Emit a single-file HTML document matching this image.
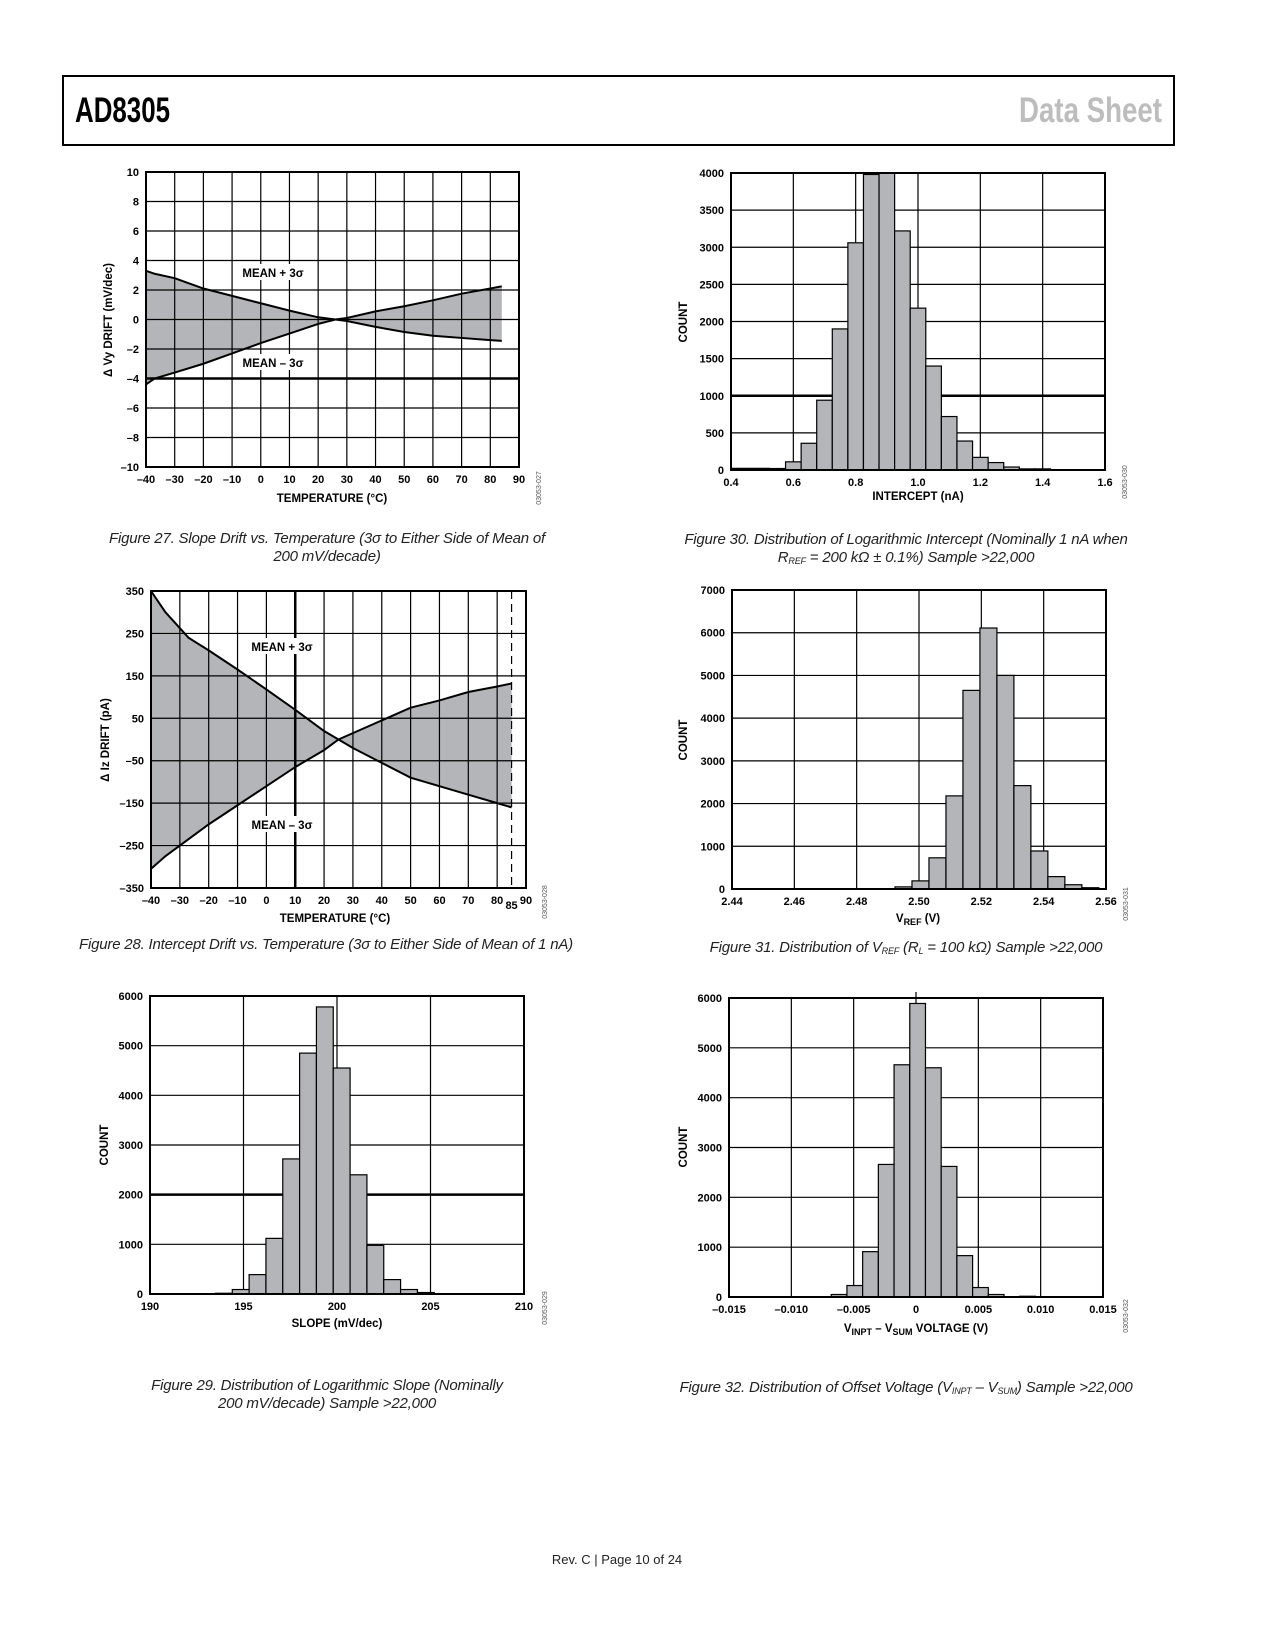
<!DOCTYPE html>
<html>
<head>
<meta charset="utf-8">
<style>
  html,body{margin:0;padding:0;background:#fff;}
  body{width:1275px;height:1650px;overflow:hidden;}
  svg{display:block;font-family:"Liberation Sans",sans-serif;}
  .tick{font-size:11px;font-weight:bold;fill:#000;}
  .atitle{font-size:11.5px;font-weight:bold;fill:#000;}
  .cap{font-size:15px;font-style:italic;fill:#222;letter-spacing:-0.2px;}
  .serial{font-size:7px;fill:#555;}
</style>
</head>
<body>
<svg id="page" width="1275" height="1650" viewBox="0 0 1275 1650">
  <rect x="63" y="76" width="1111" height="69" fill="none" stroke="#000" stroke-width="2"/>
  <text x="75" y="122" font-size="35" font-weight="bold" textLength="95" lengthAdjust="spacingAndGlyphs" fill="#000">AD8305</text>
  <text x="1019" y="122" font-size="35" font-weight="bold" textLength="143" lengthAdjust="spacingAndGlyphs" fill="#bdbdbd">Data Sheet</text>

  <text class="cap" x="327" y="543" text-anchor="middle">Figure 27. Slope Drift vs. Temperature (3σ to Either Side of Mean of</text>
  <text class="cap" x="327" y="561" text-anchor="middle">200 mV/decade)</text>
  <text class="cap" x="326" y="949" text-anchor="middle">Figure 28. Intercept Drift vs. Temperature (3σ to Either Side of Mean of 1 nA)</text>
  <text class="cap" x="327" y="1390" text-anchor="middle">Figure 29. Distribution of Logarithmic Slope (Nominally</text>
  <text class="cap" x="327" y="1408" text-anchor="middle">200 mV/decade) Sample &gt;22,000</text>
  <text class="cap" x="906" y="544" text-anchor="middle">Figure 30. Distribution of Logarithmic Intercept (Nominally 1 nA when</text>
  <text class="cap" x="906" y="562" text-anchor="middle">R<tspan font-size="9" dy="2">REF</tspan><tspan dy="-2"> = 200 kΩ ± 0.1%) Sample &gt;22,000</tspan></text>
  <text class="cap" x="906" y="952" text-anchor="middle">Figure 31. Distribution of V<tspan font-size="9" dy="2">REF</tspan><tspan dy="-2"> (R</tspan><tspan font-size="9" dy="2">L</tspan><tspan dy="-2"> = 100 kΩ) Sample &gt;22,000</tspan></text>
  <text class="cap" x="906" y="1392" text-anchor="middle">Figure 32. Distribution of Offset Voltage (V<tspan font-size="9" dy="2">INPT</tspan><tspan dy="-2"> – V</tspan><tspan font-size="9" dy="2">SUM</tspan><tspan dy="-2">) Sample &gt;22,000</tspan></text>
  <text x="617" y="1564" font-size="13" text-anchor="middle" fill="#222">Rev. C | Page 10 of 24</text>
</svg>
<script>
// ---------- DATA ----------
const fig27Temps = [-40,-37,-30,-20,-10,0,10,20,26,30,40,50,60,70,80,84];
const fig27Upper = [3.3,3.1,2.8,2.1,1.6,1.1,0.6,0.15,0,-0.1,-0.5,-0.85,-1.1,-1.25,-1.4,-1.45];
const fig27Lower = [-4.4,-4.0,-3.6,-3.0,-2.3,-1.6,-0.95,-0.3,0,0.1,0.55,0.9,1.3,1.75,2.1,2.25];
const fig27XTicks = [-40,-30,-20,-10,0,10,20,30,40,50,60,70,80,90];
const fig27YTicks = [-10,-8,-6,-4,-2,0,2,4,6,8,10];

const fig28Temps = [-40,-35,-27,-20,-10,0,10,20,25,30,40,50,60,70,80,85];
const fig28Upper = [350,300,240,210,165,118,70,20,0,-20,-55,-90,-110,-130,-150,-160];
const fig28Lower = [-305,-275,-235,-200,-155,-110,-65,-25,0,15,45,75,92,112,125,132];
const fig28XTicks = [-40,-30,-20,-10,0,10,20,30,40,50,60,70,80,90];
const fig28YTicks = [-350,-250,-150,-50,50,150,250,350];

const fig29Start = 193.5, fig29Width = 0.9;
const fig29Counts = [15,90,390,1120,2720,4850,5780,4550,2400,980,290,90,30];
const fig29XTicks = [190,195,200,205,210];
const fig29YTicks = [0,1000,2000,3000,4000,5000,6000];

const fig30Start = 0.525, fig30Width = 0.05;
const fig30Counts = [20,110,360,940,1900,3060,3980,4000,3220,2180,1400,720,390,170,100,40,15,15];
const fig30XTicks = [0.4,0.6,0.8,1.0,1.2,1.4,1.6];
const fig30XLabels = ['0.4','0.6','0.8','1.0','1.2','1.4','1.6'];
const fig30YTicks = [0,500,1000,1500,2000,2500,3000,3500,4000];

const fig31Start = 2.4923, fig31Width = 0.00545;
const fig31Counts = [50,190,730,2180,4650,6110,5000,2420,890,290,100,30];
const fig31XTicks = [2.44,2.46,2.48,2.50,2.52,2.54,2.56];
const fig31XLabels = ['2.44','2.46','2.48','2.50','2.52','2.54','2.56'];
const fig31YTicks = [0,1000,2000,3000,4000,5000,6000,7000];

const fig32Start = -0.0068, fig32Width = 0.00126;
const fig32Counts = [50,230,910,2660,4660,5890,4600,2620,830,190,50,5,15];
const fig32XTicks = [-0.015,-0.010,-0.005,0,0.005,0.010,0.015];
const fig32XLabels = ['–0.015','–0.010','–0.005','0','0.005','0.010','0.015'];
const fig32YTicks = [0,1000,2000,3000,4000,5000,6000];

// ---------- HELPERS ----------
const NS = 'http://www.w3.org/2000/svg';
const svg = document.getElementById('page');
function mk(tag, attrs, parent){
  const e = document.createElementNS(NS, tag);
  for (const k in attrs) e.setAttribute(k, attrs[k]);
  (parent || svg).appendChild(e);
  return e;
}
function fmt(v){ return v < 0 ? '–' + Math.abs(v) : String(v); }
function scale(d0,d1,r0,r1){ return v => r0 + (v-d0)/(d1-d0)*(r1-r0); }

function frame(g, box){
  const f = mk('rect',{x:box.l,y:box.t,width:box.r-box.l,height:box.b-box.t,fill:'none',stroke:'#000','stroke-width':2},g);
  
  
}
function vgrid(g, box, sx, vals, thick){
  vals.forEach(v=>{
    const x = sx(v);
    const ln = mk('line',{x1:x,x2:x,y1:box.t,y2:box.b,stroke:'#000','stroke-width':thick&&thick.includes(v)?2.5:1.2},g);
    
    
  });
}
function hgrid(g, box, sy, vals, thick){
  vals.forEach(v=>{
    const y = sy(v);
    const ln = mk('line',{x1:box.l,x2:box.r,y1:y,y2:y,stroke:'#000','stroke-width':thick&&thick.includes(v)?2.5:1.2},g);
    
    
  });
}
function xLabels(g, box, sx, vals, labels, skip){
  vals.forEach((v,i)=>{
    if (skip && skip.includes(v)) return;
    const t = mk('text',{x:sx(v),y:box.b+16,'text-anchor':'middle',class:'tick'},g);
    t.textContent = labels ? labels[i] : fmt(v);
    
    
  });
}
function yLabels(g, box, sy, vals){
  vals.forEach(v=>{
    const t = mk('text',{x:box.l-7,y:sy(v)+4,'text-anchor':'end',class:'tick'},g);
    t.textContent = fmt(v);
    
    
  });
}
function yTitle(g, x, y, s){
  const t = mk('text',{x:x,y:y,'text-anchor':'middle',class:'atitle',transform:'rotate(-90 '+x+' '+y+')'},g);
  t.textContent = s;
  
  
}
function xTitle(g, x, y, s){
  const t = mk('text',{x:x,y:y,'text-anchor':'middle',class:'atitle'},g);
  t.textContent = s;
  
  
  return t;
}
function serial(g, x, y, s){
  const t = mk('text',{x:x,y:y,'text-anchor':'middle',class:'serial',transform:'rotate(-90 '+x+' '+y+')'},g);
  t.textContent = s;
  
  
}
function label(g, x, y, s, w){
  const bg = mk('rect',{x:x-w/2,y:y-10,width:w,height:16,fill:'#fff'},g);
  
  
  const t = mk('text',{x:x,y:y+3,'text-anchor':'middle',class:'atitle'},g);
  t.textContent = s;
  
  
}

function bandChart(name, box, xs, up, lo, xd, yd, xTicks, yTicks, opts){
  const g = mk('g',{});
  
  
  const sx = scale(xd[0],xd[1],box.l,box.r);
  const sy = scale(yd[0],yd[1],box.b,box.t);
  let pts = xs.map((x,i)=>sx(x)+','+sy(up[i]));
  for (let i=xs.length-1;i>=0;i--) pts.push(sx(xs[i])+','+sy(lo[i]));
  const band = mk('polygon',{points:pts.join(' '),fill:'#b4b5b8',stroke:'none'},g);
  
  
  vgrid(g, box, sx, xTicks, opts.thickX);
  hgrid(g, box, sy, yTicks, opts.thickY);
  if (opts.dashX !== undefined){
    const d = mk('line',{x1:sx(opts.dashX),x2:sx(opts.dashX),y1:box.t,y2:box.b,stroke:'#000','stroke-width':1.2,'stroke-dasharray':'8,5'},g);
    
    
  }
  const lu = mk('polyline',{points:xs.map((x,i)=>sx(x)+','+sy(up[i])).join(' '),fill:'none',stroke:'#000','stroke-width':2},g);
  
  
  const ll = mk('polyline',{points:xs.map((x,i)=>sx(x)+','+sy(lo[i])).join(' '),fill:'none',stroke:'#000','stroke-width':2},g);
  
  
  frame(g, box);
  yLabels(g, box, sy, yTicks);
  xLabels(g, box, sx, xTicks, null);
  return {g, sx, sy};
}

function histChart(name, box, start, width, counts, xd, yd, xTicks, xLabs, yTicks, opts){
  const g = mk('g',{});
  
  
  const sx = scale(xd[0],xd[1],box.l,box.r);
  const sy = scale(yd[0],yd[1],box.b,box.t);
  vgrid(g, box, sx, xTicks, null);
  hgrid(g, box, sy, yTicks, opts.thickY);
  counts.forEach((c,i)=>{
    const x0 = sx(start + i*width), x1 = sx(start + (i+1)*width);
    const y = sy(c);
    const b = mk('rect',{x:x0,y:y,width:x1-x0,height:box.b-y,fill:'#b4b5b8',stroke:'#000','stroke-width':1.2},g);
    
    
  });
  frame(g, box);
  yLabels(g, box, sy, yTicks);
  xLabels(g, box, sx, xTicks, xLabs);
  return {g, sx, sy};
}

// ---------- FIGURE 27 ----------
(function(){
  const box = {l:146,r:519,t:172,b:467};
  const c = bandChart('figure-27-slope-drift', box, fig27Temps, fig27Upper, fig27Lower, [-40,90], [-10,10], fig27XTicks, fig27YTicks, {thickY:[-4]});
  label(c.g, 273, 274, 'MEAN + 3σ', 72);
  label(c.g, 273, 364, 'MEAN – 3σ', 72);
  yTitle(c.g, 112, 320, 'Δ Vy DRIFT (mV/dec)');
  xTitle(c.g, 332, 502, 'TEMPERATURE (°C)');
  serial(c.g, 541, 488, '03053-027');
})();

// ---------- FIGURE 28 ----------
(function(){
  const box = {l:151,r:526,t:591,b:888};
  const c = bandChart('figure-28-intercept-drift', box, fig28Temps, fig28Upper, fig28Lower, [-40,90], [-350,350], fig28XTicks, fig28YTicks, {thickX:[10], dashX:85});
  label(c.g, 282, 648, 'MEAN + 3σ', 72);
  label(c.g, 282, 826, 'MEAN – 3σ', 72);
  const t85 = mk('text',{x:c.sx(85),y:909,'text-anchor':'middle',class:'tick'},c.g);
  t85.textContent = '85';
  
  
  yTitle(c.g, 109, 740, 'Δ Iz DRIFT (pA)');
  xTitle(c.g, 335, 922, 'TEMPERATURE (°C)');
  serial(c.g, 547, 902, '03053-028');
})();

// ---------- FIGURE 29 ----------
(function(){
  const box = {l:150,r:524,t:996,b:1294};
  const c = histChart('figure-29-slope-histogram', box, fig29Start, fig29Width, fig29Counts, [190,210], [0,6000], fig29XTicks, null, fig29YTicks, {thickY:[2000]});
  yTitle(c.g, 108, 1145, 'COUNT');
  xTitle(c.g, 337, 1327, 'SLOPE (mV/dec)');
  serial(c.g, 547, 1308, '03053-029');
})();

// ---------- FIGURE 30 ----------
(function(){
  const box = {l:731,r:1105,t:173,b:470};
  const c = histChart('figure-30-intercept-histogram', box, fig30Start, fig30Width, fig30Counts, [0.4,1.6], [0,4000], fig30XTicks, fig30XLabels, fig30YTicks, {thickY:[1000]});
  const base = mk('line',{x1:box.l,x2:c.sx(0.525),y1:box.b-1,y2:box.b-1,stroke:'#000','stroke-width':2.5},c.g);
  
  
  yTitle(c.g, 687, 322, 'COUNT');
  xTitle(c.g, 918, 500, 'INTERCEPT (nA)');
  serial(c.g, 1127, 482, '03053-030');
})();

// ---------- FIGURE 31 ----------
(function(){
  const box = {l:732,r:1106,t:590,b:889};
  const c = histChart('figure-31-vref-histogram', box, fig31Start, fig31Width, fig31Counts, [2.44,2.56], [0,7000], fig31XTicks, fig31XLabels, fig31YTicks, {});
  yTitle(c.g, 687, 740, 'COUNT');
  const t = xTitle(c.g, 918, 922, '');
  t.innerHTML = 'V<tspan font-size="9" dy="3">REF</tspan><tspan dy="-3"> (V)</tspan>';
  serial(c.g, 1128, 904, '03053-031');
})();

// ---------- FIGURE 32 ----------
(function(){
  const box = {l:729,r:1103,t:998,b:1297};
  const c = histChart('figure-32-offset-histogram', box, fig32Start, fig32Width, fig32Counts, [-0.015,0.015], [0,6000], fig32XTicks, fig32XLabels, fig32YTicks, {});
  const tk = mk('line',{x1:c.sx(0),x2:c.sx(0),y1:box.t-6,y2:box.t,stroke:'#000','stroke-width':1.2},c.g);
  
  
  yTitle(c.g, 687, 1147, 'COUNT');
  const t = xTitle(c.g, 916, 1332, '');
  t.innerHTML = 'V<tspan font-size="9" dy="3">INPT</tspan><tspan dy="-3"> – V</tspan><tspan font-size="9" dy="3">SUM</tspan><tspan dy="-3"> VOLTAGE (V)</tspan>';
  serial(c.g, 1128, 1316, '03053-032');
})();
</script>
</body>
</html>
